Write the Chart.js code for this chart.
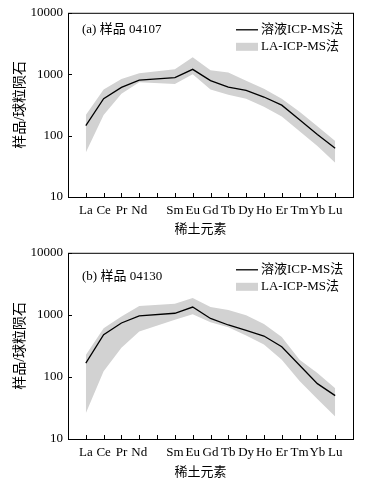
<!DOCTYPE html>
<html>
<head>
<meta charset="utf-8">
<script src="https://cdn.jsdelivr.net/npm/chart.js@4.4.1/dist/chart.umd.min.js"></script>
<style>
  html, body { margin: 0; padding: 0; background: #fff; }
  #wrapA { position: absolute; left: 0; top: 0; width: 372px; height: 240px; }
  #wrapB { position: absolute; left: 0; top: 240px; width: 372px; height: 245px; }
</style>
</head>
<body>
<div id="wrapA"><canvas id="chartA"></canvas></div>
<div id="wrapB"><canvas id="chartB"></canvas></div>
<script>
// rare earth elements (Pm has no value, only a tick)
const elements = ['La', 'Ce', 'Pr', 'Nd', '', 'Sm', 'Eu', 'Gd', 'Tb', 'Dy', 'Ho', 'Er', 'Tm', 'Yb', 'Lu'];
const yTicks = [10, 100, 1000, 10000];

// (a) sample 04107
const solutionA = [145, 400, 610, 800, null, 880, 1200, 785, 615, 545, 425, 313, 181, 104, 62];
const laHighA   = [217, 563, 832, 1038, null, 1200, 1890, 1160, 1065, 785, 577, 400, 245, 142, 82];
const laLowA    = [53, 217, 481, 736, null, 692, 1000, 563, 463, 400, 294, 204, 118, 68, 36];

// (b) sample 04130
const solutionB = [167, 478, 739, 964, null, 1062, 1336, 875, 687, 560, 456, 306, 154, 78, 50];
const laHighB   = [226, 609, 941, 1386, null, 1508, 1875, 1336, 1199, 988, 713, 440, 189, 116, 66];
const laLowB    = [26, 124, 295, 540, null, 834, 1023, 757, 632, 467, 333, 189, 86, 44, 23];

const FONT = "'Liberation Serif', 'Noto Sans CJK SC', serif";
const BAND = '#d2d2d2';

function toPoints(arr) {
    const pts = [];
    arr.forEach((v, i) => { if (v !== null) pts.push({ x: i, y: v }); });
    return pts;
}

// box, inside ticks, panel label, legend and x title
const extrasPlugin = {
    id: 'extras',
    afterDraw(chart, args, opts) {
        const ctx = chart.ctx;
        const a = chart.chartArea;
        const xs = chart.scales.x;
        const ys = chart.scales.y;
        ctx.save();
        ctx.strokeStyle = '#000';
        ctx.lineWidth = 1;
        ctx.strokeRect(a.left + 0.5, a.top + 0.5, a.right - a.left, a.bottom - a.top);
        ctx.beginPath();
        elements.forEach((e, i) => {
            const px = Math.round(xs.getPixelForValue(i)) + 0.5;
            ctx.moveTo(px, a.bottom);
            ctx.lineTo(px, a.bottom - 4);
        });
        yTicks.forEach((v) => {
            const py = Math.round(ys.getPixelForValue(v)) + 0.5;
            ctx.moveTo(a.left, py);
            ctx.lineTo(a.left + 4, py);
        });
        ctx.stroke();

        ctx.fillStyle = '#000';
        ctx.font = '13px ' + FONT;
        ctx.textBaseline = 'middle';
        ctx.textAlign = 'left';
        ctx.fillText(opts.label, a.left + 14, a.top + opts.labelDy);

        // legend
        const lx = a.left + 168;
        ctx.beginPath();
        ctx.lineWidth = 1.3;
        ctx.moveTo(lx, a.top + 17);
        ctx.lineTo(lx + 22, a.top + 17);
        ctx.stroke();
        ctx.fillText('溶液ICP-MS法', lx + 25, a.top + 17);
        ctx.fillStyle = BAND;
        ctx.fillRect(lx, a.top + 30, 22, 8);
        ctx.fillStyle = '#000';
        ctx.fillText('LA-ICP-MS法', lx + 25, a.top + 34);

        // x axis title
        ctx.textAlign = 'center';
        ctx.font = '13px ' + FONT;
        ctx.fillText('稀土元素', (a.left + a.right) / 2 - 10, a.bottom + opts.titleDy);
        ctx.restore();
    }
};

function makeChart(canvasId, label, solution, high, low, labelDy, xHeight, titleDy) {
    const ctx = document.getElementById(canvasId).getContext('2d');
    return new Chart(ctx, {
        type: 'line',
        data: {
            datasets: [
                {
                    label: '溶液ICP-MS法',
                    data: toPoints(solution),
                    borderColor: '#000',
                    borderWidth: 1.3,
                    pointRadius: 0,
                    fill: false,
                    tension: 0,
                    order: 0
                },
                {
                    label: 'LA-ICP-MS法',
                    data: toPoints(high),
                    borderWidth: 0,
                    borderColor: BAND,
                    backgroundColor: BAND,
                    pointRadius: 0,
                    fill: '+1',
                    tension: 0,
                    order: 1
                },
                {
                    label: 'low',
                    data: toPoints(low),
                    borderWidth: 0,
                    borderColor: BAND,
                    pointRadius: 0,
                    fill: false,
                    tension: 0,
                    order: 2
                }
            ]
        },
        options: {
            responsive: true,
            maintainAspectRatio: false,
            animation: false,
            layout: { padding: { top: 9, right: 19, left: 0, bottom: 0 } },
            plugins: {
                legend: { display: false },
                tooltip: { enabled: false },
                extras: { label: label, labelDy: labelDy, titleDy: titleDy }
            },
            scales: {
                x: {
                    type: 'linear',
                    min: -1,
                    max: 15,
                    grid: { display: false, drawTicks: false },
                    border: { display: false },
                    afterFit: (scale) => { scale.height = xHeight; },
                    afterBuildTicks: (scale) => {
                        scale.ticks = elements.map((e, i) => ({ value: i }));
                    },
                    ticks: {
                        autoSkip: false,
                        maxRotation: 0,
                        padding: 6,
                        color: '#000',
                        font: { family: FONT, size: 13 },
                        callback: (value) => elements[value] || ''
                    }
                },
                y: {
                    type: 'logarithmic',
                    min: 10,
                    max: 10000,
                    grid: { display: false, drawTicks: false },
                    border: { display: false },
                    afterFit: (scale) => { scale.width = 68; },
                    afterBuildTicks: (scale) => {
                        scale.ticks = yTicks.map((v) => ({ value: v }));
                    },
                    ticks: {
                        autoSkip: false,
                        padding: 5,
                        color: '#000',
                        font: { family: FONT, size: 13 },
                        callback: (value) => String(value)
                    },
                    title: {
                        display: true,
                        text: '样品/球粒陨石',
                        color: '#000',
                        font: { family: FONT, size: 14 },
                        padding: { top: 12, bottom: 0 }
                    }
                }
            }
        },
        plugins: [extrasPlugin]
    });
}

makeChart('chartA', '(a) 样品 04107', solutionA, laHighA, laLowA, 17, 43, 33);
makeChart('chartB', '(b) 样品 04130', solutionB, laHighB, laLowB, 24, 46, 34);
</script>
</body>
</html>
